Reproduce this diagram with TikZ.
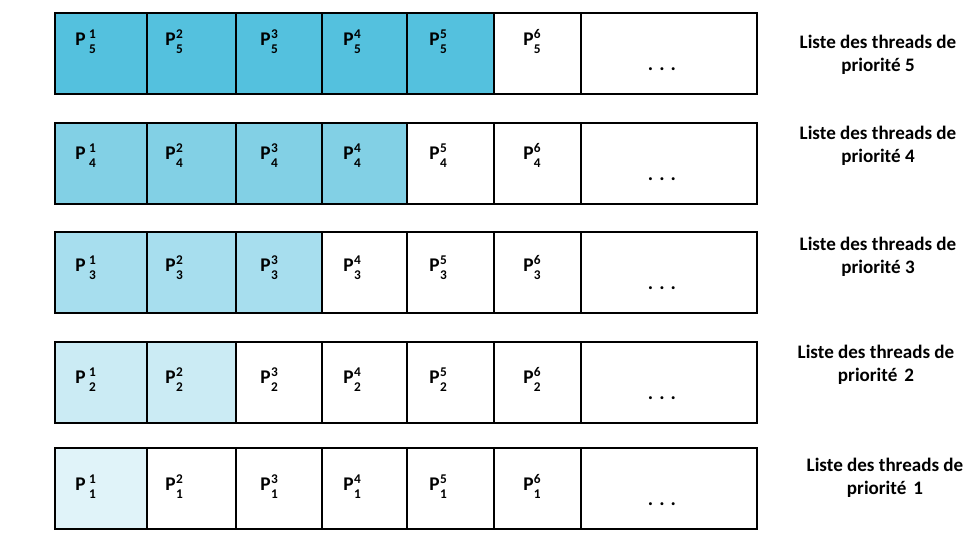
\documentclass[tikz,border=0pt]{standalone}
\usepackage{fontspec}
\setmainfont{Carlito}
\usetikzlibrary{positioning}
\usepackage{xcolor}

\definecolor{prio5}{RGB}{84,193,222}
\definecolor{prio4}{RGB}{130,208,229}
\definecolor{prio3}{RGB}{167,222,238}
\definecolor{prio2}{RGB}{203,235,244}
\definecolor{prio1}{RGB}{224,243,249}

% P with index on top and priority below
\newcommand{\thr}[3]{P\kern#3\makebox[0pt][l]{\raisebox{5pt}{\fontsize{10}{10}\selectfont #1}}\raisebox{-6.5pt}{\fontsize{10}{10}\selectfont #2}}

\begin{document}
\begin{tikzpicture}[
    x=0.75pt, y=-0.75pt,
    cell/.style={draw=black, line width=2.2pt},
    proc/.style={font=\bfseries\fontsize{14.5}{16}\selectfont, inner sep=0pt, anchor=base west},
    caption/.style={font=\bfseries\fontsize{14.3}{17.25}\selectfont, align=center}
]
\useasboundingbox (0,0) rectangle (979,543);

% One list per priority
\foreach \p/\top/\by/\cx/\cy/\sp in {5/13/32/878/55/0pt,4/123/36/878/146/0pt,3/232/39/878/257/0pt,2/342/41/876/365/2pt,1/448/42/885/478/2pt} {
  \foreach \xa/\xb/\dx/\gap [count=\c] in {55/147/20/2.6pt,147/236/18/0.5pt,236/322/24/0.5pt,322/407/21/0.5pt,407/494/22/0.5pt,494/581/29/0.3pt} {
    \ifnum\c>\p \def\fc{white}\else \def\fc{prio\p}\fi
    \path[cell, fill=\fc] (\xa,\top) rectangle (\xb,\top+81);
    \node[proc] (p\p\c) at (\xa+\dx,\top+\by) {\thr{\c}{\p}{\gap}};
  }
  \path[cell] (581,\top) rectangle (757,\top+81);
  \node[font=\bfseries\fontsize{15}{15}\selectfont] (dots\p) at (662,\top+56) {. . .};

  % Labels
  \node[caption] (liste\p) at (\cx,\cy) {Liste des threads de\\priorité \kern\sp\p};
}

\end{tikzpicture}
\end{document}
